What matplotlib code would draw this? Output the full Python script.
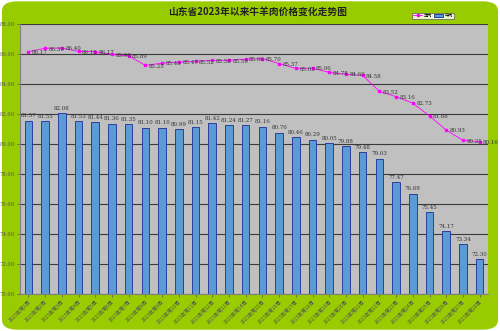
import matplotlib.pyplot as plt
from matplotlib.patches import FancyBboxPatch
import numpy as np

plt.rcParams['font.family'] = ['Noto Sans CJK SC', 'DejaVu Sans']

# weekly prices (yuan/kg)
weeks = ['2023年第%d周' % i for i in range(1, 29)]
beef = [81.57, 81.55, 82.08, 81.53, 81.44, 81.36, 81.35, 81.10, 81.10, 80.99,
        81.15, 81.42, 81.24, 81.27, 81.16, 80.76, 80.46, 80.29, 80.05, 79.88,
        79.48, 79.03, 77.47, 76.69, 75.45, 74.17, 73.34, 72.30]
mutton = [86.17, 86.39, 86.40, 86.18, 86.17, 85.98, 85.89, 85.25, 85.40, 85.47,
          85.52, 85.58, 85.59, 85.66, 85.70, 85.37, 85.05, 85.06, 84.78, 84.66,
          84.58, 83.52, 83.16, 82.73, 81.88, 80.93, 80.25, 80.16]
yticks = [70, 72, 74, 76, 78, 80, 82, 84, 86, 88]

fig = plt.figure(figsize=(5, 3.31), dpi=100)
fig.patch.set_facecolor('white')
bg = FancyBboxPatch((0.004, 0.004), 0.992, 0.992, boxstyle='round,pad=0,rounding_size=0.03',
                    transform=fig.transFigure, facecolor='#99CC00', edgecolor='none', zorder=-10)
fig.patches.append(bg)

ax = fig.add_axes([0.04, 0.112, 0.936, 0.815])
ax.set_zorder(5)
ax.set_facecolor('#C0C0C0')
x = np.arange(len(weeks))

ax.bar(x, beef, width=0.45, color='#5B9BD5', edgecolor='#2E3FA0', linewidth=0.7, zorder=3, label='牛肉')
ax.plot(x, mutton, color='#FF00FF', linewidth=0.6, marker='s', markersize=2, zorder=4, label='羊肉')

for xi, v in zip(x, beef):
    ax.text(xi, v + 0.15, '%.2f' % v, ha='center', va='bottom', fontsize=4, color='#333333',
            family='DejaVu Serif', zorder=5)
for xi, v in zip(x, mutton):
    ax.text(xi + 0.2, v - 0.05, '%.2f' % v, ha='left', va='center', fontsize=4, color='#333333',
            family='DejaVu Serif', zorder=5)

ax.set_ylim(70, 88)
ax.set_xlim(-0.5, len(weeks) - 0.5)
ax.set_yticks(yticks)
ax.set_yticklabels(['%.2f' % t for t in yticks], fontsize=3.8, family='DejaVu Serif', color='#333333')
ax.yaxis.grid(True, color='#3A3A3A', linewidth=0.8, zorder=1)
ax.set_axisbelow(True)
ax.set_xticks(x)
ax.set_xticklabels(weeks, rotation=45, ha='right', rotation_mode='anchor', fontsize=3.6, color='#2A2A2A')
ax.tick_params(axis='both', length=2, width=0.5, pad=2, colors='#555555')
for s in ['top', 'right']:
    ax.spines[s].set_visible(False)
for s in ['left', 'bottom']:
    ax.spines[s].set_color('#808080')

fig.text(0.516, 0.965, '山东省2023年以来牛羊肉价格变化走势图', ha='center', va='center',
         fontsize=7, fontweight='bold', color='#222222')
leg = ax.legend(loc='center', bbox_to_anchor=(0.866, 0.952), bbox_transform=fig.transFigure,
                ncol=2, fontsize=3, frameon=True, fancybox=False, edgecolor='#555555',
                handlelength=2.2, columnspacing=0.6, borderpad=0.3, handletextpad=0.3)
leg.get_frame().set_linewidth(0.6)

fig.savefig('out.png', dpi=100, facecolor=fig.get_facecolor())
